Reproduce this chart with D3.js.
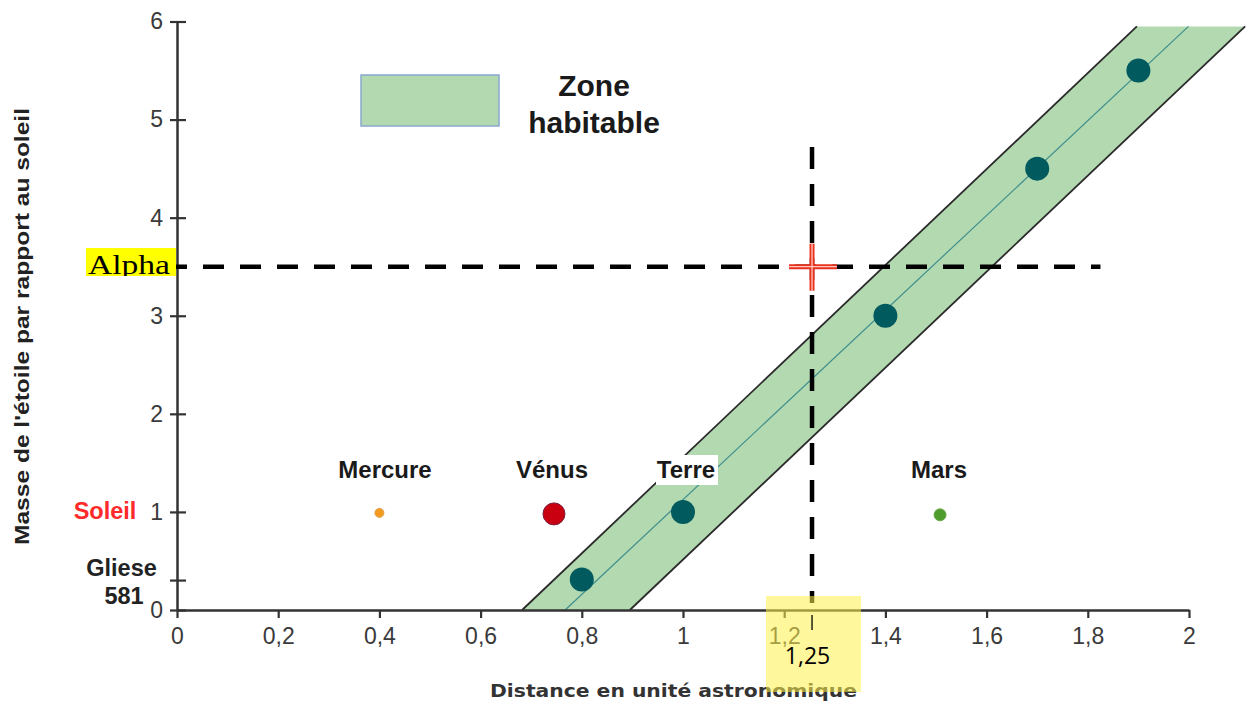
<!DOCTYPE html>
<html><head><meta charset="utf-8">
<script src="https://cdn.jsdelivr.net/npm/d3@7"></script>
<style>
html,body{margin:0;padding:0;background:#fff;}
svg{display:block;}
</style></head>
<body>
<svg id="chart" width="1246" height="703"></svg>
<script>
// ---- data ----
const xTicks = [0, 0.2, 0.4, 0.6, 0.8, 1, 1.2, 1.4, 1.6, 1.8, 2];
const xTickLabels = ["0", "0,2", "0,4", "0,6", "0,8", "1", "1,2", "1,4", "1,6", "1,8", "2"];
const yTicks = [0, 1, 2, 3, 4, 5, 6];
const yTickLabels = ["0", "1", "2", "3", "4", "5", "6"];
const starNames = ["Soleil", "Gliese 581"];
const starMass = [1, 0.3];
// habitable zone band (distance at mass 0 and at top of band)
const bandMass = [0, 5.95];
const bandLeft = [0.682, 1.897];
const bandCenter = [0.767, 1.999];
const bandRight = [0.895, 2.111];
// points at the centre of the habitable zone
const zoneDist = [0.80, 1.00, 1.40, 1.70, 1.90];
const zoneMass = [0.31, 1.00, 3.00, 4.50, 5.50];
// planets of the solar system
const planetNames = ["Mercure", "Vénus", "Terre", "Mars"];
const planetDist = [0.40, 0.745, 1.00, 1.508];
const planetMass = [0.99, 0.98, 1.00, 0.97];
// star Alpha marker
const alphaLabel = "Alpha";
const alphaMass = 3.5;
const alphaDist = 1.255;
const alphaDistLabel = "1,25";
const alphaLineEnd = 1.825;
const alphaLineTop = 4.72;

// ---- layout ----
const svg = d3.select("#chart");
const x = d3.scaleLinear().domain([0, 2]).range([177, 1189]);
const y = d3.scaleLinear().domain([0, 6]).range([610, 21.5]);
const axisColor = "#333";
const sans = "'Liberation Sans', Arial, sans-serif";

// band
const bandPoly = [
  [bandLeft[0], bandMass[0]], [bandLeft[1], bandMass[1]],
  [bandRight[1], bandMass[1]], [bandRight[0], bandMass[0]]
];
svg.append("path")
  .attr("d", d3.line().x(d => x(d[0])).y(d => y(d[1]))(bandPoly) + "Z")
  .attr("fill", "#b3d9b1");
const edge = (arr, color, w) => svg.append("line")
  .attr("x1", x(arr[0])).attr("y1", y(bandMass[0]))
  .attr("x2", x(arr[1])).attr("y2", y(bandMass[1]))
  .attr("stroke", color).attr("stroke-width", w);
edge(bandLeft, "#2a2a2a", 1.8);
edge(bandRight, "#2a2a2a", 1.8);
edge(bandCenter, "#3f8f8c", 1.2);

// axes
const xAxis = d3.axisBottom(x).tickValues(xTicks)
  .tickFormat((d, i) => xTickLabels[i]).tickSizeOuter(0).tickSizeInner(8).tickPadding(10);
const gx = svg.append("g").attr("transform", `translate(0,${y(0)})`).call(xAxis);
gx.select(".domain").attr("stroke", axisColor).attr("stroke-width", 2.5);
gx.selectAll(".tick line").attr("stroke", axisColor).attr("stroke-width", 2.2);
gx.selectAll(".tick text").attr("fill", "#3a3a3a").attr("font-family", sans).attr("font-size", 23);

const yAxis = d3.axisLeft(y).tickValues(yTicks)
  .tickFormat((d, i) => yTickLabels[i]).tickSizeOuter(0).tickSizeInner(7).tickPadding(7);
const gy = svg.append("g").attr("transform", `translate(${x(0)},0)`).call(yAxis);
gy.select(".domain").attr("stroke", axisColor).attr("stroke-width", 2.5);
gy.selectAll(".tick line").attr("stroke", axisColor).attr("stroke-width", 2.2).attr("x2", 9).attr("x1", -7);
gy.selectAll(".tick text").attr("fill", "#3a3a3a").attr("font-family", sans).attr("font-size", 23);
// extra tick for Gliese 581 mass
svg.append("line").attr("x1", x(0) - 7).attr("x2", x(0) + 9)
  .attr("y1", y(starMass[1])).attr("y2", y(starMass[1]))
  .attr("stroke", axisColor).attr("stroke-width", 2.2);

// star labels on y axis
svg.append("text").attr("x", 105).attr("y", y(starMass[0]) + 7)
  .attr("text-anchor", "middle").attr("font-family", sans).attr("font-weight", "bold")
  .attr("font-size", 23.5).attr("fill", "#ff2b2b").text(starNames[0]);
const gl = svg.append("text").attr("text-anchor", "middle").attr("font-family", sans)
  .attr("font-weight", "bold").attr("font-size", 23.5).attr("fill", "#222");
gl.append("tspan").attr("x", 121.5).attr("y", 576).text(starNames[1].split(" ")[0]);
gl.append("tspan").attr("x", 124).attr("y", 604).text(starNames[1].split(" ")[1]);

// axis titles
svg.append("text").attr("transform", `translate(29,${326.5}) rotate(-90)`)
  .attr("text-anchor", "middle").attr("font-family", sans).attr("font-weight", "bold")
  .attr("font-size", 20).attr("fill", "#222")
  .attr("textLength", 437).attr("lengthAdjust", "spacingAndGlyphs")
  .text("Masse de l'étoile par rapport au soleil");
svg.append("text").attr("x", 673.5).attr("y", 697)
  .attr("text-anchor", "middle").attr("font-family", "'DejaVu Sans', Verdana, sans-serif").attr("font-weight", "bold")
  .attr("font-size", 18).attr("fill", "#333")
  .attr("textLength", 367).attr("lengthAdjust", "spacingAndGlyphs")
  .text("Distance en unité astronomique");

// legend
svg.append("rect").attr("x", 361).attr("y", 75).attr("width", 138).attr("height", 51)
  .attr("fill", "#b3d9b1").attr("stroke", "#8aa6cf").attr("stroke-width", 1.5);
const lg = svg.append("text").attr("text-anchor", "middle").attr("font-family", sans)
  .attr("font-weight", "bold").attr("font-size", 30).attr("fill", "#1a1a1a");
lg.append("tspan").attr("x", 594).attr("y", 96).text("Zone");
lg.append("tspan").attr("x", 594).attr("y", 133).text("habitable");

// planets (non-habitable ones) and labels
const planetColor = ["#f39a1e", "#c8000f", null, "#4f9b2b"];
const planetStroke = ["#e0a050", "#7a2040", null, "#6aa84a"];
const planetR = [4.5, 11, 0, 6];
planetNames.forEach((n, i) => {
  if (planetR[i] > 0) {
    svg.append("circle").attr("cx", x(planetDist[i])).attr("cy", y(planetMass[i]))
      .attr("r", planetR[i]).attr("fill", planetColor[i])
      .attr("stroke", planetStroke[i]).attr("stroke-width", 1);
  }
});
// habitable zone points
svg.selectAll("circle.zone").data(zoneDist).enter().append("circle")
  .attr("class", "zone")
  .attr("cx", d => x(d)).attr("cy", (d, i) => y(zoneMass[i]))
  .attr("r", 12).attr("fill", "#005a5e");

const labelX = [385, 552, 686, 939];
planetNames.forEach((n, i) => {
  if (n === "Terre") {
    svg.append("rect").attr("x", 656).attr("y", 455).attr("width", 62).attr("height", 30).attr("fill", "#fff");
  }
  svg.append("text").attr("x", labelX[i]).attr("y", 478)
    .attr("text-anchor", "middle").attr("font-family", sans).attr("font-weight", "bold")
    .attr("font-size", 24).attr("fill", "#1a1a1a").text(n);
});

// Alpha dashed lines
svg.append("line").attr("x1", 166).attr("x2", x(alphaLineEnd))
  .attr("y1", y(alphaMass)).attr("y2", y(alphaMass))
  .attr("stroke", "#000").attr("stroke-width", 4.5).attr("stroke-dasharray", "21,16");
svg.append("line").attr("x1", x(alphaDist)).attr("x2", x(alphaDist))
  .attr("y1", y(alphaLineTop)).attr("y2", 603)
  .attr("stroke", "#000").attr("stroke-width", 4.5).attr("stroke-dasharray", "22,15");

// red cross
const cx = x(alphaDist), cy = y(alphaMass);
[["#e8321e", 5], ["#ffc9bf", 1.3]].forEach(([c, w]) => {
  svg.append("line").attr("x1", cx - 23).attr("x2", cx + 25).attr("y1", cy).attr("y2", cy)
    .attr("stroke", c).attr("stroke-width", w);
  svg.append("line").attr("x1", cx).attr("x2", cx).attr("y1", cy - 23).attr("y2", cy + 24)
    .attr("stroke", c).attr("stroke-width", w);
});

// Alpha label
svg.append("clipPath").attr("id", "alphaClip").append("rect")
  .attr("x", 86).attr("y", 248).attr("width", 90).attr("height", 28);
svg.append("rect").attr("x", 86).attr("y", 248).attr("width", 90).attr("height", 28).attr("fill", "#ffff00");
svg.append("text").attr("x", 88).attr("y", 274).attr("clip-path", "url(#alphaClip)")
  .attr("font-family", "'Liberation Serif', 'Times New Roman', serif").attr("font-size", 27)
  .attr("textLength", 82).attr("lengthAdjust", "spacingAndGlyphs")
  .attr("fill", "#000").text(alphaLabel);

// 1,25 label
svg.append("rect").attr("x", 766).attr("y", 596).attr("width", 95).attr("height", 96)
  .attr("fill", "#fff04a").attr("opacity", 0.55);
svg.append("line").attr("x1", x(alphaDist)).attr("x2", x(alphaDist)).attr("y1", 615).attr("y2", 630)
  .attr("stroke", "#000").attr("stroke-width", 1.3);
svg.append("text").attr("x", 807.5).attr("y", 664).attr("text-anchor", "middle")
  .attr("font-family", "'Open Sans', sans-serif").attr("font-size", 23).attr("fill", "#000").text(alphaDistLabel);
</script>
</body></html>
